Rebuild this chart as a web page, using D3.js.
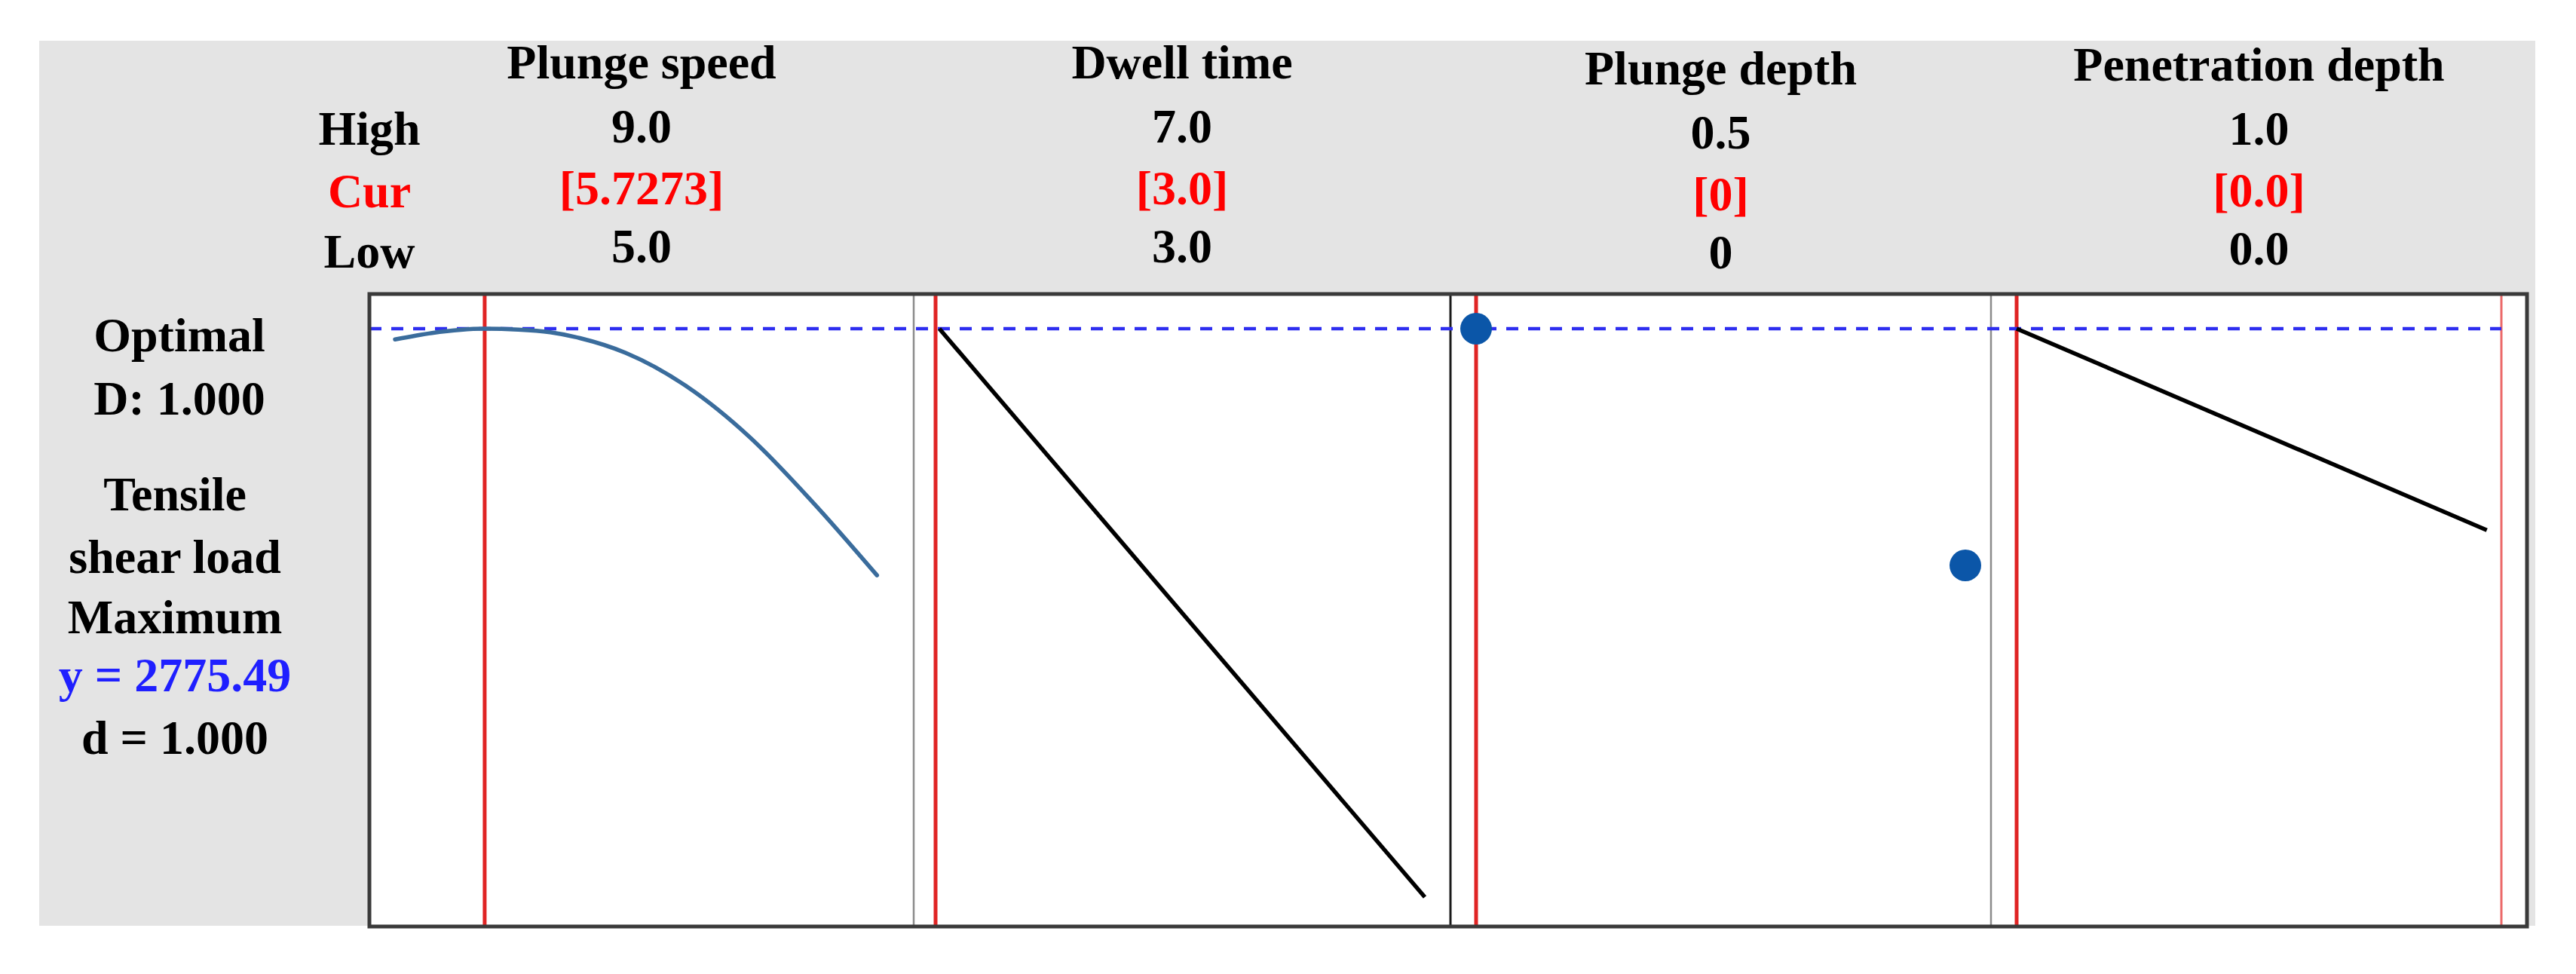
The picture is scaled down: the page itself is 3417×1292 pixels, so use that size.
<!DOCTYPE html>
<html>
<head>
<meta charset="utf-8">
<script src="https://cdn.jsdelivr.net/npm/d3@7"></script>
<style>
  body { margin: 0; background: #fff; }
  svg text { font-family: "Liberation Serif", "Times New Roman", serif; font-weight: bold; }
</style>
</head>
<body>
<div id="chart"></div>
<script>
// factor names and the High / Cur / Low rows
const factors = ["Plunge speed", "Dwell time", "Plunge depth", "Penetration depth"];
const highLabels = ["9.0", "7.0", "0.5", "1.0"];
const curLabels = ["[5.7273]", "[3.0]", "[0]", "[0.0]"];
const lowLabels = ["5.0", "3.0", "0", "0.0"];

// factor ranges and current settings
const lows = [5, 3, 0, 0];
const highs = [9, 7, 0.5, 1];
const current = [5.7273, 3, 0, 0];

// predicted tensile shear load per factor
const speedX = [5.0, 5.3, 5.7273, 6.0, 6.26, 6.5, 6.87, 7.37, 7.88, 8.38, 8.91];
const speedY = [2744, 2763, 2775.49, 2773, 2765, 2748, 2705, 2606, 2458, 2272, 2055];
const dwellX = [3, 7];
const dwellY = [2775.49, 1115];
const depthX = [0, 0.5];
const depthY = [2775.49, 2084];
const penX = [0, 0.97];
const penY = [2775.49, 2187];

const yOptimal = 2775.49;
const sideLabels = ["Optimal", "D: 1.000", "Tensile", "shear load", "Maximum", "y = 2775.49", "d = 1.000"];

//chart size
const width = 3417;
const height = 1292;
const frame = { left: 490, right: 3352, top: 390, bottom: 1229 };
const edges = [490, 1212, 1924, 2641, 3352];
const pad = 34;

const svg = d3.select("#chart")
  .append("svg")
  .attr("width", width)
  .attr("height", height);

// grey backdrop
svg.append("rect")
  .attr("x", 52).attr("y", 54)
  .attr("width", 3311).attr("height", 1174)
  .attr("fill", "#e4e4e4");

// white plot area
svg.append("rect")
  .attr("x", frame.left).attr("y", frame.top)
  .attr("width", frame.right - frame.left).attr("height", frame.bottom - frame.top)
  .attr("fill", "#fff");

// one x scale per factor panel
const xScales = factors.map((f, i) => d3.scaleLinear()
  .domain([lows[i], highs[i]])
  .range([edges[i] + pad, edges[i + 1] - pad]));

// shared y scale
const yScale = d3.scaleLinear()
  .domain([1115, yOptimal])
  .range([1190, 436]);

// header text
const colDy = [0, 0, 8, 3];
const header = svg.append("g").attr("text-anchor", "middle").attr("font-size", 64);
factors.forEach((f, i) => {
  const cx = (edges[i] + edges[i + 1]) / 2;
  header.append("text").attr("x", cx).attr("y", 104 + colDy[i]).text(f);
  header.append("text").attr("x", cx).attr("y", 189 + colDy[i]).text(highLabels[i]);
  header.append("text").attr("x", cx).attr("y", 271 + colDy[i]).attr("fill", "#ff0000").text(curLabels[i]);
  header.append("text").attr("x", cx).attr("y", 348 + colDy[i]).text(lowLabels[i]);
});
header.append("text").attr("x", frame.left).attr("y", 192).text("High");
header.append("text").attr("x", frame.left).attr("y", 275).attr("fill", "#ff0000").text("Cur");
header.append("text").attr("x", frame.left).attr("y", 355).text("Low");

// left side labels
const sideY = [466, 550, 677, 760, 840, 917, 1000];
const side = svg.append("g").attr("text-anchor", "middle").attr("font-size", 64);
sideLabels.forEach((s, i) => {
  side.append("text")
    .attr("x", i < 2 ? 238 : 232)
    .attr("y", sideY[i])
    .attr("fill", s.startsWith("y =") ? "#1f1fff" : "#000")
    .text(s);
});

// panel dividers
const dividerColors = ["#8c8c8c", "#1a1a1a", "#8c8c8c"];
[1, 2, 3].forEach((k, i) => {
  svg.append("line")
    .attr("x1", edges[k]).attr("x2", edges[k])
    .attr("y1", frame.top).attr("y2", frame.bottom)
    .attr("stroke", dividerColors[i])
    .attr("stroke-width", i === 1 ? 3 : 2.5);
});

// current setting lines
current.forEach((c, i) => {
  svg.append("line")
    .attr("x1", xScales[i](c) - (i === 1 ? 5 : 0)).attr("x2", xScales[i](c) - (i === 1 ? 5 : 0))
    .attr("y1", frame.top).attr("y2", frame.bottom)
    .attr("stroke", "#e02424")
    .attr("stroke-width", 5);
});
// thin marker at the penetration depth high end
svg.append("line")
  .attr("x1", xScales[3](highs[3])).attr("x2", xScales[3](highs[3]))
  .attr("y1", frame.top).attr("y2", frame.bottom)
  .attr("stroke", "#ec6a6a")
  .attr("stroke-width", 3);

// optimal response dashed line
svg.append("line")
  .attr("x1", frame.left).attr("x2", xScales[3](highs[3]))
  .attr("y1", yScale(yOptimal)).attr("y2", yScale(yOptimal))
  .attr("stroke", "#2e2ef0")
  .attr("stroke-width", 4.5)
  .attr("stroke-dasharray", "16,13");

// response traces
const line = (xs) => d3.line()
  .x(d => xs(d[0]))
  .y(d => yScale(d[1]))
  .curve(d3.curveMonotoneX);

svg.append("path")
  .attr("d", line(xScales[0])(d3.zip(speedX, speedY)))
  .attr("fill", "none")
  .attr("stroke", "#3a6c9c")
  .attr("stroke-width", 5.5)
  .attr("stroke-linecap", "round");

svg.append("path")
  .attr("d", line(xScales[1])(d3.zip(dwellX, dwellY)))
  .attr("fill", "none")
  .attr("stroke", "#000")
  .attr("stroke-width", 5.5);

svg.append("path")
  .attr("d", line(xScales[3])(d3.zip(penX, penY)))
  .attr("fill", "none")
  .attr("stroke", "#000")
  .attr("stroke-width", 5.5);

// categorical points for plunge depth
svg.selectAll(".dot")
  .data(d3.zip(depthX, depthY))
  .enter().append("circle")
  .attr("class", "dot")
  .attr("cx", d => xScales[2](d[0]))
  .attr("cy", d => yScale(d[1]))
  .attr("r", 21)
  .attr("fill", "#0b56a8");

// outer frame
svg.append("rect")
  .attr("x", frame.left).attr("y", frame.top)
  .attr("width", frame.right - frame.left).attr("height", frame.bottom - frame.top)
  .attr("fill", "none")
  .attr("stroke", "#3a3a3a")
  .attr("stroke-width", 5);
</script>
</body>
</html>
